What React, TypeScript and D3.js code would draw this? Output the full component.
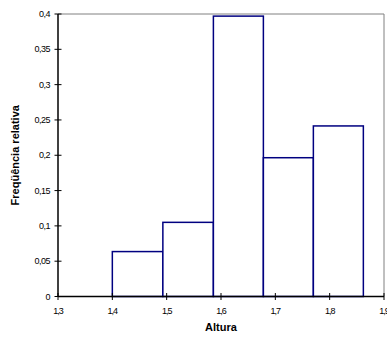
import React from "react";
import * as d3 from "d3";

const binStarts = [1.4, 1.493, 1.586, 1.678, 1.77];
const binEnds = [1.493, 1.586, 1.678, 1.77, 1.862];
const freqs = [0.0636, 0.105, 0.397, 0.1965, 0.2415];
const xTicks = [1.3, 1.4, 1.5, 1.6, 1.7, 1.8, 1.9];
const yTicks = [0, 0.05, 0.1, 0.15, 0.2, 0.25, 0.3, 0.35, 0.4];
const xTitle = "Altura";
const yTitle = "Freqüência relativa";

const W = 387;
const H = 339;
const left = 58;
const right = 384;
const top = 14;
const bottom = 296.5;

const fmt = (v: number) => String(v).replace(".", ",");

export default function App() {
  const x = d3.scaleLinear().domain([1.3, 1.9]).range([left, right]);
  const y = d3.scaleLinear().domain([0, 0.4]).range([bottom, top]);
  const font = "'Liberation Sans', Arial, sans-serif";
  return (
    <svg
      width={W}
      height={H}
      style={{ position: "absolute", left: 0, top: 0, background: "#fff" }}
      fontFamily={font}
    >
      <rect x={0} y={0} width={W} height={H} fill="#fff" />
      {/* plot area border top & right */}
      <line x1={left} x2={right} y1={top} y2={top} stroke="#808080" strokeWidth={1} />
      <line x1={right} x2={right} y1={top} y2={bottom} stroke="#808080" strokeWidth={1} />
      {/* bars */}
      {freqs.map((f, i) => (
        <rect
          key={i}
          x={x(binStarts[i])}
          y={y(f)}
          width={x(binEnds[i]) - x(binStarts[i])}
          height={y(0) - y(f)}
          fill="#fff"
          stroke="#000080"
          strokeWidth={1.5}
        />
      ))}
      {/* axes */}
      <line x1={left} x2={left} y1={top} y2={bottom} stroke="#000" strokeWidth={1.5} />
      <line x1={left} x2={right} y1={bottom} y2={bottom} stroke="#000" strokeWidth={1.5} />
      {yTicks.map((t) => (
        <g key={"y" + t}>
          <line x1={left - 3.5} x2={left + 3.5} y1={y(t)} y2={y(t)} stroke="#000" strokeWidth={1} />
          <text
            x={left - 8}
            y={y(t)}
            dy="0.35em"
            textAnchor="end"
            fontSize={9}
            letterSpacing={-0.5}
            fill="#000"
          >
            {fmt(t)}
          </text>
        </g>
      ))}
      {xTicks.map((t) => (
        <g key={"x" + t}>
          <line x1={x(t)} x2={x(t)} y1={bottom - 3.5} y2={bottom + 3.5} stroke="#000" strokeWidth={1} />
          <text
            x={x(t)}
            y={bottom + 17}
            textAnchor="middle"
            fontSize={9}
            letterSpacing={-1}
            fill="#000"
          >
            {fmt(t)}
          </text>
        </g>
      ))}
      <text
        x={(left + right) / 2}
        y={331}
        textAnchor="middle"
        fontSize={11}
        fontWeight="bold"
        fill="#000"
      >
        {xTitle}
      </text>
      <text
        transform={`translate(19, ${(top + bottom) / 2}) rotate(-90)`}
        textAnchor="middle"
        fontSize={11}
        fontWeight="bold"
        fill="#000"
      >
        {yTitle}
      </text>
    </svg>
  );
}
